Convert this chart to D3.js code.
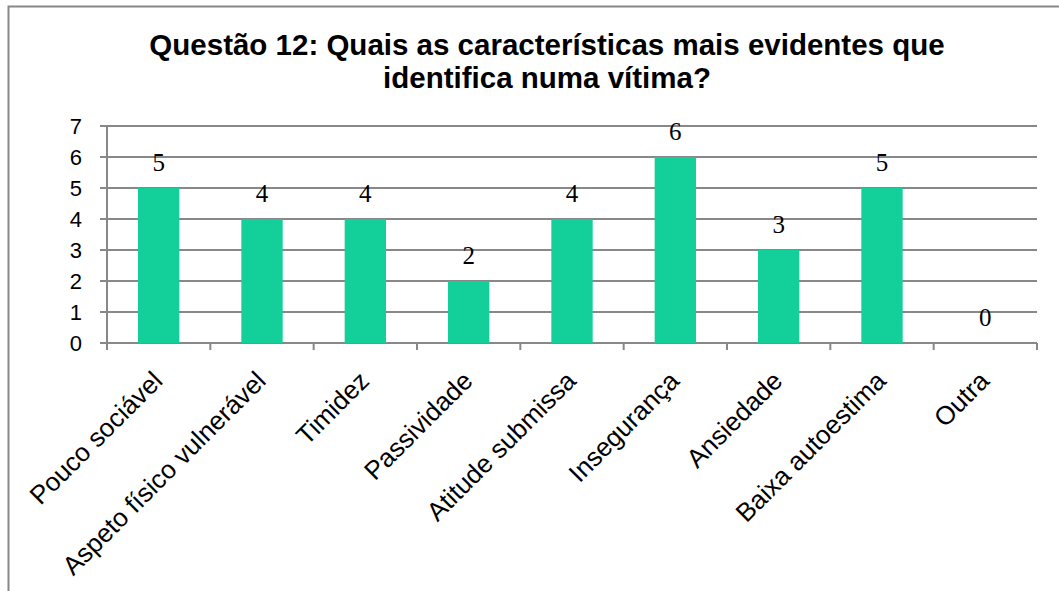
<!DOCTYPE html>
<html><head><meta charset="utf-8">
<script src="https://cdn.jsdelivr.net/npm/d3@7"></script>
<style>html,body{margin:0;padding:0;background:#fff;}svg{display:block;}</style>
</head><body>
<svg id="chart" width="1059" height="591"></svg>
<script>
const categories = ["Pouco sociável","Aspeto físico vulnerável","Timidez","Passividade","Atitude submissa","Insegurança","Ansiedade","Baixa autoestima","Outra"];
const values = [5,4,4,2,4,6,3,5,0];
const yTicks = [0,1,2,3,4,5,6,7];
const titleLines = ["Questão 12: Quais as características mais evidentes que","identifica numa vítima?"];

const svg = d3.select("#chart");
svg.append("rect").attr("x",0).attr("y",0).attr("width",1059).attr("height",591).attr("fill","#fff");
svg.append("rect").attr("x",8.5).attr("y",6.5).attr("width",1200).attr("height",800)
  .attr("fill","none").attr("stroke","#888").attr("stroke-width",2);

const x = d3.scaleBand().domain(categories).range([107,1037]).paddingInner(0.6).paddingOuter(0.3);
const y = d3.scaleLinear().domain([0,7]).range([343,126]);
const grid = "#888";

svg.append("g").selectAll("line").data(yTicks).join("line")
  .attr("x1",100).attr("x2",1037).attr("y1",d=>y(d)).attr("y2",d=>y(d))
  .attr("stroke",grid).attr("stroke-width",2);
svg.append("line").attr("x1",107).attr("x2",107).attr("y1",y(7)).attr("y2",y(0)+7)
  .attr("stroke",grid).attr("stroke-width",2);
const step = x.step();
svg.append("g").selectAll("line").data(d3.range(categories.length+1)).join("line")
  .attr("x1",i=>107+i*step).attr("x2",i=>107+i*step).attr("y1",y(0)).attr("y2",y(0)+7)
  .attr("stroke",grid).attr("stroke-width",2);

svg.append("g").selectAll("text").data(yTicks).join("text")
  .attr("x",82).attr("y",d=>y(d)).attr("dy","0.36em").attr("text-anchor","end")
  .attr("font-family","Liberation Sans, Arial, sans-serif").attr("font-size",22).attr("fill","#000")
  .text(d=>d);

svg.append("g").selectAll("rect").data(values).join("rect")
  .attr("x",(d,i)=>x(categories[i])).attr("width",x.bandwidth())
  .attr("y",d=>y(d)).attr("height",d=>y(0)-y(d)).attr("fill","#13CF9A");

svg.append("g").selectAll("text").data(values).join("text")
  .attr("x",(d,i)=>x(categories[i])+x.bandwidth()/2).attr("y",d=>y(d)-17)
  .attr("text-anchor","middle").attr("font-family","Liberation Serif, Times New Roman, serif")
  .attr("font-size",25).attr("fill","#000").text(d=>d);

svg.append("g").selectAll("text").data(categories).join("text")
  .attr("transform",d=>`translate(${x(d)+x.bandwidth()/2-1},${y(0)+33}) rotate(-45)`)
  .attr("text-anchor","end").attr("dy","0.35em")
  .attr("font-family","Liberation Sans, Arial, sans-serif").attr("font-size",26).attr("fill","#000")
  .text(d=>d);

svg.append("g").selectAll("text").data(titleLines).join("text")
  .attr("x",547).attr("y",(d,i)=>55+i*33).attr("text-anchor","middle")
  .attr("font-family","Liberation Sans, Arial, sans-serif").attr("font-weight","bold")
  .attr("font-size",29.5).attr("fill","#000").text(d=>d);
</script>
</body></html>
